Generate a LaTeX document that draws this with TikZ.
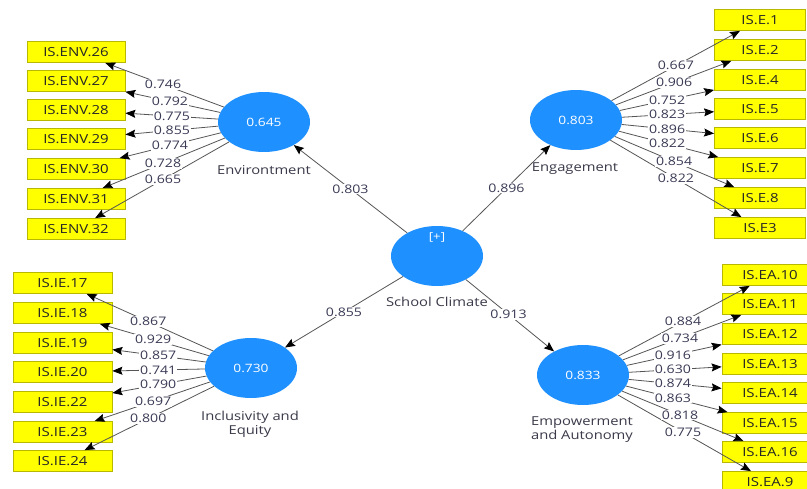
\documentclass[tikz,border=0pt]{standalone}
\usepackage{fontspec}
\setmainfont[FakeStretch=1.2]{Open Sans}
\usetikzlibrary{arrows.meta,shapes.geometric}
\definecolor{lvcol}{HTML}{1E90FF}
\definecolor{boxfill}{HTML}{FFFF00}
\definecolor{boxline}{HTML}{B8B800}
\definecolor{edgecol}{HTML}{555555}
\definecolor{numcol}{HTML}{3A3A55}
\definecolor{namecol}{HTML}{3A3A4A}
\begin{document}
\begin{tikzpicture}[x=1pt,y=-1pt,
 latent/.style={ellipse, fill=lvcol, minimum width=92pt, minimum height=60pt, inner sep=0pt, text=white, font=\fontsize{11.5}{13}\selectfont},
 ind/.style={rectangle, fill=boxfill, draw=boxline, line width=0.8pt, minimum height=21pt, inner sep=0pt, font=\fontsize{12.5}{14}\selectfont, text=black!85},
 load/.style={draw=edgecol, line width=0.8pt, -{Stealth[length=10pt,width=8pt,inset=1.5pt,color=black]}},
 num/.style={fill=white, inner sep=1pt, text=numcol, font=\fontsize{11.8}{13}\selectfont},
 lvname/.style={text=namecol, font=\fontsize{12.3}{14}\selectfont, align=center, inner sep=0pt}]
\useasboundingbox (0,0) rectangle (807,488);
\clip (0,0) rectangle (807,488);
\fill[white] (0,0) rectangle (807,488);

% latent variables
\node[latent] (sc) at (437,256) {};
\node[text=white, font=\fontsize{11}{12}\selectfont] (scplus) at (437,237) {[+]};
\node[latent] (env) at (264,122) {0.645};
\node[latent] (eng) at (576,120) {0.803};
\node[latent] (ie) at (251,368) {0.730};
\node[latent] (ea) at (583,375) {0.833};

\node[lvname] (envname) at (264,170) {Environtment};
\node[lvname] (engname) at (575,169) {Engagement};
\node[lvname] (scname) at (437,302) {School Climate};
\node[lvname] (iename) at (250,424) {Inclusivity and\\Equity};
\node[lvname] (eaname) at (582,430) {Empowerment\\and Autonomy};

% indicators
\foreach \n/\y/\t in {1/52/IS.ENV.26,2/81/IS.ENV.27,3/110/IS.ENV.28,4/139/IS.ENV.29,5/169/IS.ENV.30,6/199/IS.ENV.31,7/229/IS.ENV.32}
  \node[ind, minimum width=98pt] (envi\n) at (76,\y) {\t};
\foreach \n/\y/\t in {1/20/IS.E.1,2/50/IS.E.2,3/80/IS.E.4,4/109/IS.E.5,5/138/IS.E.6,6/168/IS.E.7,7/198/IS.E.8,8/228/IS.E3}
  \node[ind, minimum width=91pt] (engi\n) at (760,\y) {\t};
\foreach \n/\y/\t in {1/283/IS.IE.17,2/313/IS.IE.18,3/343/IS.IE.19,4/372/IS.IE.20,5/402/IS.IE.22,6/432/IS.IE.23,7/461/IS.IE.24}
  \node[ind, minimum width=99pt] (iei\n) at (62.5,\y) {\t};
\foreach \n/\y/\t in {1/275/IS.EA.10,2/304/IS.EA.11,3/334/IS.EA.12,4/364/IS.EA.13,5/393/IS.EA.14,6/423/IS.EA.15,7/452/IS.EA.16,8/482/IS.EA.9}
  \node[ind, minimum width=96pt] (eai\n) at (770,\y) {\t};

% edges
\foreach \n in {1,...,7} \draw[load] (env) -- (envi\n);
\foreach \n in {1,...,8} \draw[load] (eng) -- (engi\n);
\foreach \n in {1,...,7} \draw[load] (ie) -- (iei\n);
\foreach \n in {1,...,8} \draw[load] (ea) -- (eai\n);
\draw[load] (sc) -- (env);
\draw[load] (sc) -- (eng);
\draw[load] (sc) -- (ie);
\draw[load] (sc) -- (ea);

% loadings
\foreach \n/\p/\v in {1/.537/0.746,2/.5/0.792,3/.49/0.775,4/.49/0.855,5/.5/0.774,6/.537/0.728,7/.537/0.665}
  \path (env.center) -- (envi\n.center) node[num, pos=\p] {\v};
\foreach \n/\p/\v in {1/.543/0.667,2/.533/0.906,3/.495/0.752,4/.495/0.823,5/.495/0.896,6/.495/0.822,7/.533/0.854,8/.543/0.822}
  \path (eng.center) -- (engi\n.center) node[num, pos=\p] {\v};
\foreach \n/\p/\v in {1/.545/0.867,2/.519/0.929,3/.492/0.857,4/.492/0.741,5/.492/0.790,6/.519/0.697,7/.545/0.800}
  \path (ie.center) -- (iei\n.center) node[num, pos=\p] {\v};
\foreach \n/\p/\v in {1/.535/0.884,2/.519/0.734,3/.481/0.916,4/.481/0.630,5/.481/0.874,6/.481/0.863,7/.519/0.818,8/.535/0.775}
  \path (ea.center) -- (eai\n.center) node[num, pos=\p] {\v};
\path (sc.center) -- (env.center) node[num, pos=.5] {0.803};
\path (sc.center) -- (eng.center) node[num, pos=.5] {0.896};
\path (sc.center) -- (ie.center) node[num, pos=.5] {0.855};
\path (sc.center) -- (ea.center) node[num, pos=.49] {0.913};
\end{tikzpicture}
\end{document}
